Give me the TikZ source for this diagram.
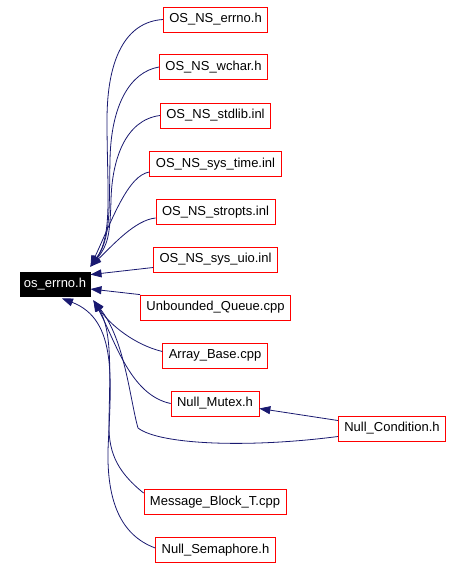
\documentclass[tikz,border=0pt]{standalone}
\usepackage{fontspec}
\setmainfont{Liberation Sans}
\usetikzlibrary{arrows.meta}
\usetikzlibrary{positioning}
\definecolor{depblue}{RGB}{25,25,112}
\tikzset{
    filebox/.style={
           rectangle,
           draw=red, line width=0.8pt,
           minimum height=25pt,
           inner xsep=6pt,
           font=\fontsize{13}{15}\selectfont,
           text centered,
           },
    rootbox/.style={
           filebox,
           draw=black, fill=black,
           text=white,
           minimum height=24pt,
           inner xsep=4pt,
           },
    dep/.style={
           draw=depblue, line width=0.8pt,
           },
}
\begin{document}
\begin{tikzpicture}[x=1pt,y=-1pt,->,>={Triangle[length=11pt,width=8pt]}]

 % keep the margins of the original picture
 \useasboundingbox (0,0) rectangle (462,568);

 % the header everything points to
 \node[rootbox] (os errno) at (55,284) {os\_errno.h};

 % including files, one column at the right
 \node[filebox] (NS errno)    at (215.5,19.5)  {OS\_NS\_errno.h};
 \node[filebox] (NS wchar)    at (213.5,67)    {OS\_NS\_wchar.h};
 \node[filebox] (NS stdlib)   at (215.5,115.5) {OS\_NS\_stdlib.inl};
 \node[filebox] (NS sys time) at (215.5,164)   {OS\_NS\_sys\_time.inl};
 \node[filebox] (NS stropts)  at (215.5,212)   {OS\_NS\_stropts.inl};
 \node[filebox] (NS sys uio)  at (215.5,259.5) {OS\_NS\_sys\_uio.inl};
 \node[filebox] (Unbounded Queue) at (215.5,307.5) {Unbounded\_Queue.cpp};
 \node[filebox] (Array Base)  at (215,355.5)   {Array\_Base.cpp};
 \node[filebox] (Null Mutex)  at (215,403.5)   {Null\_Mutex.h};
 \node[filebox] (Null Condition) at (392,428.5) {Null\_Condition.h};
 \node[filebox] (Message Block) at (215,502)   {Message\_Block\_T.cpp};
 \node[filebox] (Null Semaphore) at (215.5,550) {Null\_Semaphore.h};

 % arrows into the top right corner of os_errno.h
 \draw[dep] (NS errno.west) .. controls (125,22) and (107,60) .. (107,120)
  .. controls (107,190) and (113,235) .. ([yshift=5pt]os errno.north east);
 \draw[dep] (NS wchar.west) .. controls (130,72) and (111,105) .. (110,160)
  .. controls (109,210) and (111,238) .. ([yshift=5pt]os errno.north east);
 \draw[dep] (NS stdlib.west) .. controls (125,120) and (112,160) .. (111,200)
  .. controls (110,235) and (108,245) .. ([yshift=5pt]os errno.north east);
 \draw[dep] ([yshift=-8pt]NS sys time.west) .. controls (128,175) and (112,220) .. ([yshift=5pt]os errno.north east);
 \draw[dep] ([yshift=-6pt]NS stropts.west) .. controls (135,220) and (113,245) .. ([yshift=5pt]os errno.north east);

 % nearly straight ones
 \draw[dep] ([yshift=-8pt]NS sys uio.west) -- ([yshift=-3pt]os errno.north east);
 \draw[dep] (Unbounded Queue.north west) -- ([yshift=-5pt]os errno.east);

 % arrows into the bottom right corner
 \draw[dep] ([yshift=4pt]Array Base.west) .. controls (135,345) and (110,325) .. ([xshift=3pt,yshift=-4pt]os errno.south east);
 \draw[dep] (Null Mutex.west) .. controls (130,395) and (115,340) .. ([xshift=3pt,yshift=-4pt]os errno.south east);
 \draw[dep] ([yshift=-8pt]Null Condition.west) .. controls (250,448) and (160,445) .. (138,428)
  .. controls (130,400) and (125,340) .. ([xshift=3pt,yshift=-4pt]os errno.south east);
 \draw[dep] ([yshift=9pt]Message Block.west) .. controls (115,470) and (108,450) .. (109,420)
  .. controls (110,370) and (112,330) .. ([xshift=3pt,yshift=-4pt]os errno.south east);

 % the long one from the bottom
 \draw[dep] ([yshift=2pt]Null Semaphore.west) .. controls (120,535) and (107,500) .. (108,450)
  .. controls (111,380) and (118,320) .. ([xshift=7pt,yshift=-2pt]os errno.south);

 % Null_Condition.h also includes Null_Mutex.h
 \draw[dep] ([yshift=8pt]Null Condition.west) -- ([yshift=-5pt]Null Mutex.east);

\end{tikzpicture}
\end{document}
